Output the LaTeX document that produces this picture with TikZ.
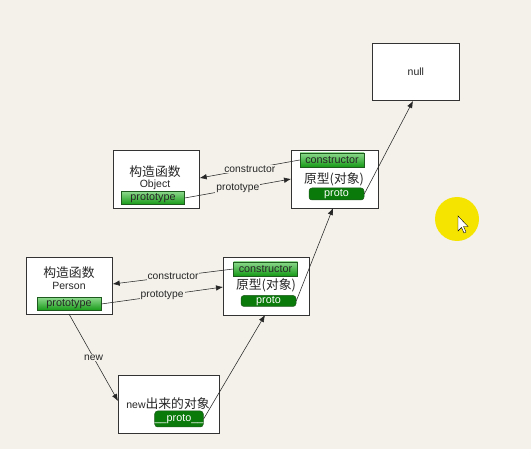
\documentclass[tikz,border=0pt]{standalone}
\usepackage{fontspec}
\setmainfont{Liberation Sans}
\newfontfamily\cjk{Noto Sans CJK SC}
\usetikzlibrary{arrows.meta,calc}
\definecolor{bg}{HTML}{F3F1EA}
\definecolor{gtop}{HTML}{8CD88C}
\definecolor{gbot}{HTML}{159A15}
\definecolor{gdark}{HTML}{0A7A0A}
\definecolor{gedge}{HTML}{1E5A1E}
\definecolor{hl}{HTML}{F5E400}
\tikzset{
  box/.style={draw=black!80, fill=white, line width=0.7pt, anchor=north west, inner sep=0pt},
  bar/.style={draw=gedge, top color=gtop, bottom color=gbot, line width=0.5pt, inner sep=0pt, font=\fontsize{10.8}{11}\selectfont, text=black!85},
  protobar/.style={draw=gedge, fill=gdark, rounded corners=3pt, line width=0.5pt, inner sep=0pt, font=\fontsize{10.8}{11}\selectfont, text=white},
  lbl/.style={font=\fontsize{10.5}{11}\selectfont, text=black!85},
  clbl/.style={font=\cjk\fontsize{12.8}{13}\selectfont, text=black!85},
  conn/.style={draw=black!85, line width=0.55pt, -{Latex[length=7pt,width=5.5pt]}},
  elbl/.style={fill=bg, inner sep=1pt, font=\fontsize{10.3}{11}\selectfont, text=black!85},
}
\begin{document}
\begin{tikzpicture}[x=1pt,y=-1pt]
\path[fill=bg] (0,0) rectangle (531,449);
\useasboundingbox (0,0) rectangle (531,449);
% null
\node[box, minimum width=87pt, minimum height=57pt] (null) at (372,43) {};
\node[lbl] (nulltxt) at (null.center) {null};
% Object constructor
\node[box, minimum width=86pt, minimum height=58pt] (obj) at (113,150) {};
\node[clbl] (objt1) at (155,172) {构造函数};
\node[lbl] (objt2) at (155,185) {Object};
\node[bar, minimum width=63pt, minimum height=13pt] (objproto) at (153,198) {prototype};
% Object prototype
\node[box, minimum width=87pt, minimum height=58pt] (oproto) at (291,150) {};
\node[bar, minimum width=64pt, minimum height=14pt] (ocons) at (332,160) {constructor};
\node[clbl] (ot) at (334,179) {原型(对象)};
\node[protobar, minimum width=55pt, minimum height=12pt] (oprot) at (336.5,194) {proto};
% Person constructor
\node[box, minimum width=86pt, minimum height=57pt] (per) at (26,257) {};
\node[clbl] (pert1) at (69,273) {构造函数};
\node[lbl] (pert2) at (69,286) {Person};
\node[bar, minimum width=64pt, minimum height=13pt] (perproto) at (69,304) {prototype};
% Person prototype
\node[box, minimum width=86pt, minimum height=58pt] (pproto) at (223,257) {};
\node[bar, minimum width=64pt, minimum height=14pt] (pcons) at (265.5,269) {constructor};
\node[clbl] (pt) at (266,285) {原型(对象)};
\node[protobar, minimum width=55pt, minimum height=11pt] (pprot) at (268.5,301) {proto};
% new object
\node[box, minimum width=101pt, minimum height=58pt] (nobj) at (118,375) {};
\node[clbl] (nt) at (168,404) {\fontspec{Liberation Sans}\fontsize{10.5}{11}\selectfont new\cjk\fontsize{12.8}{13}\selectfont 出来的对象};
\node[protobar, minimum width=46pt, minimum height=16pt] (nprot) at (179,419) {\_\_proto\_\_};
% connectors
\draw[conn] (ocons.west) -- node[elbl, pos=0.5] (l1) {constructor} (obj.east |- 0,178);
\draw[conn] (objproto.east) -- node[elbl, pos=0.5] (l2) {prototype} (oproto.west |- 0,179);
\draw[conn] (oprot.east) -- (413,101);
\draw[conn] (pcons.west) -- node[elbl, pos=0.5] (l3) {constructor} (per.east |- 0,284);
\draw[conn] (perproto.east) -- node[elbl, pos=0.5] (l4) {prototype} (pproto.west |- 0,287);
\draw[conn] (pprot.east) -- (333,208);
\draw[conn] (69,314) -- node[elbl, pos=0.5] (l5) {new} (nobj.west |- 0,401);
\draw[conn] (nprot.east) -- (265,315);
% highlight circle and cursor
\fill[hl] (457,219) circle (22);
\draw[fill=white, draw=black, line width=0.4pt] (458,216) -- (458,231) -- (461.5,227.5) -- (464,233) -- (466,232) -- (463.5,226.5) -- (468,226.5) -- cycle;
\end{tikzpicture}
\end{document}
